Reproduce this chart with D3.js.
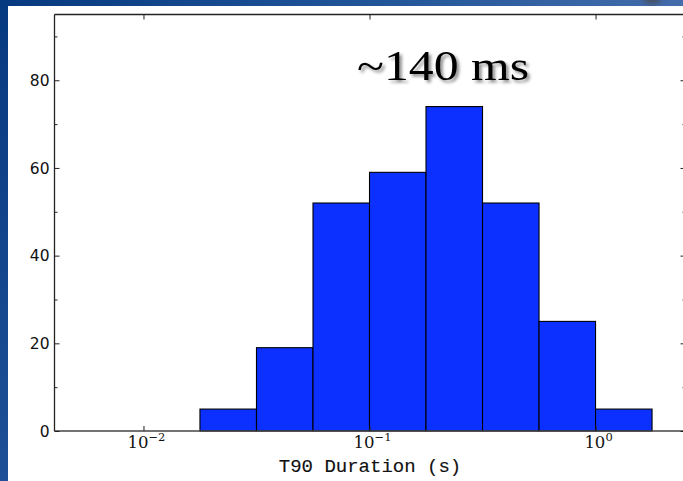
<!DOCTYPE html>
<html>
<head>
<meta charset="utf-8">
<script src="https://cdn.jsdelivr.net/npm/d3@7"></script>
<style>
  html, body { margin: 0; padding: 0; background: #fff; }
  svg { display: block; }
</style>
</head>
<body>
<svg id="chart" width="683" height="481"></svg>
<script>
// Histogram of burst durations (T90), log-spaced bins, 4 per decade
const binEdges = [0.01778, 0.03162, 0.05623, 0.1, 0.1778, 0.3162, 0.5623, 1.0, 1.778];
const counts = [5, 19, 52, 59, 74, 52, 25, 5];
const yMajorTicks = [0, 20, 40, 60, 80];
const yMinorTicks = [10, 30, 50, 70, 90];
const xMajorTicks = [0.01, 0.1, 1];
const xTickExponents = ["\u22122", "\u22121", "0"];
const xDomain = [0.00404, 2.5];
const yDomain = [0, 95];
const annotation = "~140 ms";
const xLabel = "T90 Duration (s)";

const svg = d3.select("#chart");
const W = 683, H = 481;
const plot = { left: 54.5, top: 14.5, right: 685.5, bottom: 431 };

// slide background
const defs = svg.append("defs");
const bg = defs.append("linearGradient").attr("id", "bg")
  .attr("x1", "0").attr("y1", "0").attr("x2", "1").attr("y2", "0.25");
bg.append("stop").attr("offset", "0").attr("stop-color", "#063a80");
bg.append("stop").attr("offset", "0.55").attr("stop-color", "#24579a");
bg.append("stop").attr("offset", "1").attr("stop-color", "#4870ae");
const leftBand = defs.append("linearGradient").attr("id", "leftBand")
  .attr("x1", "0").attr("y1", "0").attr("x2", "0").attr("y2", "1");
leftBand.append("stop").attr("offset", "0").attr("stop-color", "#063a80");
leftBand.append("stop").attr("offset", "1").attr("stop-color", "#1d5096");

const blur = defs.append("filter").attr("id", "soft").attr("x", "-50%").attr("y", "-50%")
  .attr("width", "200%").attr("height", "200%");
blur.append("feGaussianBlur").attr("stdDeviation", 3);

const shadow = defs.append("filter").attr("id", "shadow").attr("x", "-20%").attr("y", "-30%")
  .attr("width", "140%").attr("height", "160%");
shadow.append("feDropShadow").attr("dx", 2.5).attr("dy", 2.5).attr("stdDeviation", 1.8)
  .attr("flood-color", "#000").attr("flood-opacity", 0.45);

svg.append("rect").attr("width", W).attr("height", H).attr("fill", "url(#bg)");
svg.append("rect").attr("x", 0).attr("y", 0).attr("width", 8).attr("height", H).attr("fill", "url(#leftBand)");
svg.append("ellipse").attr("cx", 652).attr("cy", -2).attr("rx", 9).attr("ry", 6)
  .attr("fill", "#4a4f5c").attr("filter", "url(#soft)");
svg.append("rect").attr("x", 8).attr("y", 6).attr("width", W - 8).attr("height", H - 6).attr("fill", "#fff");

const x = d3.scaleLog().domain(xDomain).range([plot.left, plot.right]);
const y = d3.scaleLinear().domain(yDomain).range([plot.bottom, plot.top]);

const bins = counts.map((c, i) => ({ x0: binEdges[i], x1: binEdges[i + 1], n: c }));

// bars
svg.append("g").selectAll("rect").data(bins).join("rect")
  .attr("x", d => x(d.x0))
  .attr("y", d => y(d.n))
  .attr("width", d => x(d.x1) - x(d.x0))
  .attr("height", d => y(0) - y(d.n))
  .attr("fill", "#0c30ff")
  .attr("stroke", "#000")
  .attr("stroke-width", 1.1);

// frame
const frame = svg.append("g").attr("stroke", "#222").attr("fill", "none").attr("stroke-width", 1.3);
frame.append("line").attr("x1", plot.left).attr("x2", plot.right).attr("y1", plot.top).attr("y2", plot.top);
frame.append("line").attr("x1", plot.left).attr("x2", plot.right).attr("y1", plot.bottom).attr("y2", plot.bottom).attr("stroke", "#444");
frame.append("line").attr("x1", plot.left).attr("x2", plot.left).attr("y1", plot.top).attr("y2", plot.bottom);
frame.append("line").attr("x1", plot.right).attr("x2", plot.right).attr("y1", plot.top).attr("y2", plot.bottom);

// y axes (inward ticks on both sides)
const yLeft = d3.axisRight(y).tickValues(yMajorTicks).tickSize(5).tickFormat("");
const yLeftMinor = d3.axisRight(y).tickValues(yMinorTicks).tickSize(3).tickFormat("");
const yRight = d3.axisLeft(y).tickValues(yMajorTicks).tickSize(5).tickFormat("");
const yRightMinor = d3.axisLeft(y).tickValues(yMinorTicks).tickSize(3).tickFormat("");
[[yLeft, plot.left], [yLeftMinor, plot.left], [yRight, plot.right], [yRightMinor, plot.right]].forEach(([ax, px]) => {
  const g = svg.append("g").attr("transform", `translate(${px},0)`).call(ax);
  g.select(".domain").remove();
  g.selectAll("line").attr("stroke", "#222").attr("stroke-width", 1);
});

// y tick labels
svg.append("g").selectAll("text").data(yMajorTicks).join("text")
  .attr("x", plot.left - 5)
  .attr("y", d => y(d))
  .attr("dy", "0.36em")
  .attr("text-anchor", "end")
  .attr("font-family", "DejaVu Sans, sans-serif")
  .attr("font-size", 15.5)
  .attr("fill", "#111")
  .text(d => d);

// x axes (inward ticks top and bottom)
const xBottom = d3.axisTop(x).tickValues(xMajorTicks).tickSize(5).tickFormat("");
const xTop = d3.axisBottom(x).tickValues(xMajorTicks).tickSize(5).tickFormat("");
[[xBottom, plot.bottom], [xTop, plot.top]].forEach(([ax, py]) => {
  const g = svg.append("g").attr("transform", `translate(0,${py})`).call(ax);
  g.select(".domain").remove();
  g.selectAll("line").attr("stroke", "#222").attr("stroke-width", 1);
});

// x tick labels as powers of ten
const xl = svg.append("g").selectAll("text").data(xMajorTicks).join("text")
  .attr("x", d => x(d) + 3)
  .attr("y", plot.bottom + 17)
  .attr("text-anchor", "middle")
  .attr("font-family", "DejaVu Serif, serif")
  .attr("font-size", 16.5)
  .attr("fill", "#111");
xl.append("tspan").text("10");
xl.append("tspan").attr("dy", -7).attr("font-size", 11.5).text((d, i) => xTickExponents[i]);

// axis label
svg.append("text")
  .attr("x", (plot.left + plot.right) / 2)
  .attr("y", plot.bottom + 41)
  .attr("text-anchor", "middle")
  .attr("font-family", "Liberation Mono, monospace")
  .attr("font-size", 19)
  .attr("fill", "#111")
  .attr("stroke", "#111")
  .attr("stroke-width", 0.15)
  .text(xLabel);

// annotation
svg.append("text")
  .attr("x", 443)
  .attr("y", 80)
  .attr("text-anchor", "middle")
  .attr("font-family", "Liberation Serif, serif")
  .attr("font-size", 43)
  .attr("textLength", 172)
  .attr("lengthAdjust", "spacingAndGlyphs")
  .attr("fill", "#000")
  .attr("filter", "url(#shadow)")
  .text(annotation);
</script>
</body>
</html>
